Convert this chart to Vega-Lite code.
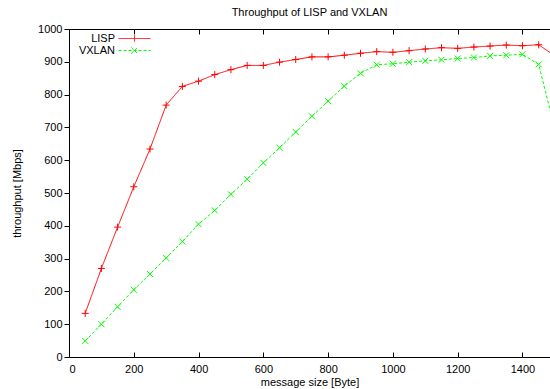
{
  "$schema": "https://vega.github.io/schema/vega-lite/v6.json",
  "width": 481,
  "height": 328,
  "autosize": {"type": "none"},
  "padding": {"left": 69, "top": 29, "right": 0, "bottom": 32},
  "background": "white",
  "config": {
    "font": "Liberation Sans",
    "view": {"stroke": null},
    "axis": {
      "grid": false,
      "domainColor": "black",
      "tickColor": "black",
      "labelColor": "black",
      "titleColor": "black",
      "labelFontSize": 11,
      "titleFontSize": 11,
      "titleFontWeight": "normal",
      "labelFont": "Liberation Sans",
      "titleFont": "Liberation Sans",
      "domainWidth": 1,
      "tickWidth": 1,
      "labelOverlap": false,
      "format": "d"
    }
  },
  "title": {
    "text": "Throughput of LISP and VXLAN",
    "fontSize": 11,
    "fontWeight": "normal",
    "font": "Liberation Sans",
    "color": "black",
    "offset": 11,
    "dy": 17,
    "anchor": "middle",
    "baseline": "bottom"
  },
  "data": {
    "values": [
      {"size": 50, "throughput": 133, "series": "LISP"},
      {"size": 100, "throughput": 270, "series": "LISP"},
      {"size": 150, "throughput": 396, "series": "LISP"},
      {"size": 200, "throughput": 519, "series": "LISP"},
      {"size": 250, "throughput": 634, "series": "LISP"},
      {"size": 300, "throughput": 768, "series": "LISP"},
      {"size": 350, "throughput": 825, "series": "LISP"},
      {"size": 400, "throughput": 841, "series": "LISP"},
      {"size": 450, "throughput": 861, "series": "LISP"},
      {"size": 500, "throughput": 876, "series": "LISP"},
      {"size": 550, "throughput": 889, "series": "LISP"},
      {"size": 600, "throughput": 889, "series": "LISP"},
      {"size": 650, "throughput": 899, "series": "LISP"},
      {"size": 700, "throughput": 907, "series": "LISP"},
      {"size": 750, "throughput": 915, "series": "LISP"},
      {"size": 800, "throughput": 915, "series": "LISP"},
      {"size": 850, "throughput": 920, "series": "LISP"},
      {"size": 900, "throughput": 926, "series": "LISP"},
      {"size": 950, "throughput": 931, "series": "LISP"},
      {"size": 1000, "throughput": 929, "series": "LISP"},
      {"size": 1050, "throughput": 934, "series": "LISP"},
      {"size": 1100, "throughput": 939, "series": "LISP"},
      {"size": 1150, "throughput": 943, "series": "LISP"},
      {"size": 1200, "throughput": 941, "series": "LISP"},
      {"size": 1250, "throughput": 945, "series": "LISP"},
      {"size": 1300, "throughput": 948, "series": "LISP"},
      {"size": 1350, "throughput": 951, "series": "LISP"},
      {"size": 1400, "throughput": 949, "series": "LISP"},
      {"size": 1450, "throughput": 952, "series": "LISP"},
      {"size": 1500, "throughput": 918, "series": "LISP"},
      {"size": 50, "throughput": 49, "series": "VXLAN"},
      {"size": 100, "throughput": 100, "series": "VXLAN"},
      {"size": 150, "throughput": 153, "series": "VXLAN"},
      {"size": 200, "throughput": 205, "series": "VXLAN"},
      {"size": 250, "throughput": 253, "series": "VXLAN"},
      {"size": 300, "throughput": 302, "series": "VXLAN"},
      {"size": 350, "throughput": 352, "series": "VXLAN"},
      {"size": 400, "throughput": 405, "series": "VXLAN"},
      {"size": 450, "throughput": 447, "series": "VXLAN"},
      {"size": 500, "throughput": 496, "series": "VXLAN"},
      {"size": 550, "throughput": 542, "series": "VXLAN"},
      {"size": 600, "throughput": 592, "series": "VXLAN"},
      {"size": 650, "throughput": 638, "series": "VXLAN"},
      {"size": 700, "throughput": 686, "series": "VXLAN"},
      {"size": 750, "throughput": 734, "series": "VXLAN"},
      {"size": 800, "throughput": 780, "series": "VXLAN"},
      {"size": 850, "throughput": 826, "series": "VXLAN"},
      {"size": 900, "throughput": 865, "series": "VXLAN"},
      {"size": 950, "throughput": 891, "series": "VXLAN"},
      {"size": 1000, "throughput": 894, "series": "VXLAN"},
      {"size": 1050, "throughput": 899, "series": "VXLAN"},
      {"size": 1100, "throughput": 903, "series": "VXLAN"},
      {"size": 1150, "throughput": 906, "series": "VXLAN"},
      {"size": 1200, "throughput": 910, "series": "VXLAN"},
      {"size": 1250, "throughput": 913, "series": "VXLAN"},
      {"size": 1300, "throughput": 918, "series": "VXLAN"},
      {"size": 1350, "throughput": 920, "series": "VXLAN"},
      {"size": 1400, "throughput": 923, "series": "VXLAN"},
      {"size": 1450, "throughput": 892, "series": "VXLAN"},
      {"size": 1500, "throughput": 695, "series": "VXLAN"}
    ]
  },
  "encoding": {
    "y": {
      "field": "throughput",
      "type": "quantitative",
      "scale": {"domain": [0, 1000], "nice": false},
      "axis": {
        "values": [0, 100, 200, 300, 400, 500, 600, 700, 800, 900, 1000],
        "tickSize": 5,
        "labelPadding": 2,
        "labelOverlap": false,
        "title": "throughput [Mbps]",
        "titlePadding": 15
      }
    }
  },
  "resolve": {"scale": {"x": "shared"}, "axis": {"x": "independent"}},
  "layer": [
    {
      "mark": {"type": "line", "clip": true, "strokeWidth": 1},
      "encoding": {
        "x": {
          "field": "size",
          "type": "quantitative",
          "scale": {"domain": [0, 1485], "nice": false},
          "axis": {
            "orient": "bottom",
            "values": [0, 200, 400, 600, 800, 1000, 1200, 1400],
            "tickSize": -5,
            "labelPadding": 11,
            "title": "message size [Byte]",
            "titlePadding": 2
          }
        },
        "color": {
          "field": "series",
          "type": "nominal",
          "scale": {"domain": ["LISP", "VXLAN"], "range": ["#ff0000", "#00ff00"]},
          "legend": {
            "orient": "none",
            "legendX": 0,
            "legendY": 4,
            "title": null,
            "padding": 0,
            "labelAlign": "right",
            "labelOffset": -25,
            "symbolOffset": 60,
            "symbolSize": 16,
            "symbolStrokeWidth": 1,
            "labelFontSize": 11,
            "labelFont": "Liberation Sans",
            "labelColor": "black",
            "rowPadding": 0,
            "encode": {
              "symbols": {
                "update": {
                  "shape": {"signal": "datum.value === 'LISP' ? 'M-8,0L8,0M0,-1.6L0,1.6' : 'M-8,0L8,0M-1.6,-1.6L1.6,1.6M-1.6,1.6L1.6,-1.6'"}
                }
              }
            }
          }
        },
        "strokeDash": {
          "field": "series",
          "type": "nominal",
          "scale": {"domain": ["LISP", "VXLAN"], "range": [[1, 0], [3, 2]]}
        }
      }
    },
    {
      "transform": [{"filter": "datum.series === 'LISP'"}],
      "mark": {"type": "point", "clip": true, "filled": false, "strokeWidth": 1, "size": 49, "opacity": 1, "color": "#ff0000", "shape": "M-1,0L1,0M0,-1L0,1"},
      "encoding": {
        "x": {
          "field": "size",
          "type": "quantitative",
          "axis": {
            "orient": "top",
            "values": [0, 200, 400, 600, 800, 1000, 1200, 1400],
            "tickSize": -5,
            "labels": false,
            "title": null
          }
        }
      }
    },
    {
      "transform": [{"filter": "datum.series === 'VXLAN'"}],
      "mark": {"type": "point", "clip": true, "filled": false, "strokeWidth": 1, "size": 36, "opacity": 1, "color": "#00ff00", "shape": "M-1,-1L1,1M-1,1L1,-1"},
      "encoding": {
        "x": {"field": "size", "type": "quantitative", "axis": null}
      }
    }
  ]
}
